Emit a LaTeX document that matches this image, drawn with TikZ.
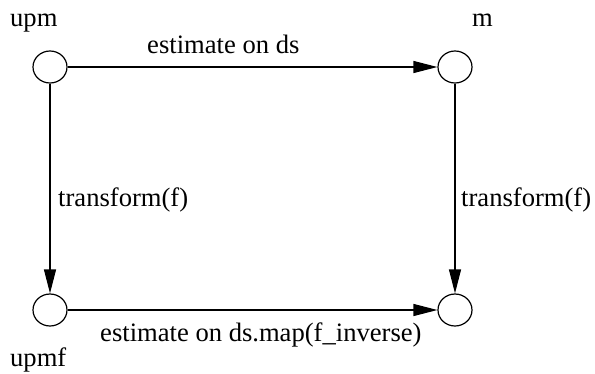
\documentclass[tikz,border=0pt]{standalone}
\usepackage{fontspec}
\setmainfont{Liberation Serif}
\usetikzlibrary{arrows.meta,shapes.geometric}
\begin{document}
\begin{tikzpicture}[x=1pt,y=-1pt,
  statenode/.style={ellipse,draw,line width=1.2pt,minimum width=34pt,minimum height=32pt,inner sep=0pt},
  lbl/.style={anchor=base west,inner sep=0pt,font=\fontsize{26.6}{30}\selectfont},
  arr/.style={line width=1.2pt,-{Triangle[length=24pt,width=12pt]}}]
\useasboundingbox (0,0) rectangle (595,373);
\node[statenode] (upm) at (50,67) {};
\node[statenode] (m) at (455,67) {};
\node[statenode] (upmf) at (50,310) {};
\node[statenode] (mf) at (455,310) {};
\node[lbl] (lupm) at (10,26.5) {upm};
\node[lbl] (lm) at (472,26.5) {m};
\node[lbl] (lupmf) at (10,366) {upmf};
\node[lbl] (e1) at (147,53) {estimate on ds};
\node[lbl] (t1) at (58,206) {transform(f)};
\node[lbl] (t2) at (461,206) {transform(f)};
\node[lbl] (e2) at (100,341) {estimate on ds.map(f\_inverse)};
\draw[arr] (upm) -- (m);
\draw[arr] (upm) -- (upmf);
\draw[arr] (m) -- (mf);
\draw[arr] (upmf) -- (mf);
\end{tikzpicture}
\end{document}
